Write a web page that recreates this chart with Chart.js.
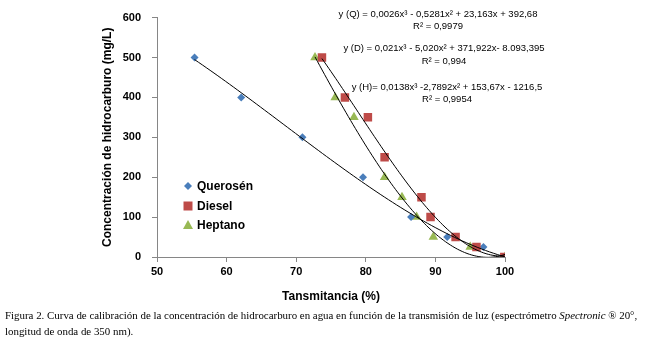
<!DOCTYPE html>
<html>
<head>
<meta charset="utf-8">
<script src="https://cdn.jsdelivr.net/npm/chart.js@4.4.1/dist/chart.umd.min.js"></script>
<style>
  body { margin: 0; background: #fff; }
  #wrap { position: relative; width: 651px; height: 351px; }
  #caption {
    position: absolute; left: 5px; top: 307px;
    font-family: "Liberation Serif", "Times New Roman", serif;
    font-size: 10.9px; line-height: 16px; color: #000; white-space: nowrap;
  }
</style>
</head>
<body>
<div id="wrap">
  <canvas id="chart" width="651" height="351"></canvas>
  <div id="caption">Figura 2. Curva de calibración de la concentración de hidrocarburo en agua en función de la transmisión de luz (espectrómetro <i>Spectronic</i> ® 20°,<br>longitud de onda de 350 nm).</div>
</div>
<script>
// transmitance (%) vs concentration (mg/L)
const queroX = [55.4, 62.1, 70.9, 79.6, 86.5, 91.7, 96.9, 100];
const queroY = [500, 400, 300, 200, 100, 50, 25, 0];
const dieselX = [73.7, 77.0, 80.3, 82.7, 88.0, 89.3, 92.9, 95.9, 99.9];
const dieselY = [500, 400, 350, 250, 150, 100, 50, 25, 0];
const heptX = [72.7, 75.6, 78.3, 82.7, 85.2, 87.3, 89.7, 95.0, 100];
const heptY = [500, 400, 350, 200, 150, 100, 50, 25, 0];

const seriesNames = ['Querosén', 'Diesel', 'Heptano'];
const equations = [
    ['y (Q) = 0,0026x³ - 0,5281x² + 23,163x + 392,68', 'R² = 0,9979'],
    ['y (D) = 0,021x³ - 5,020x² + 371,922x- 8.093,395', 'R² = 0,994'],
    ['y (H)= 0,0138x³ -2,7892x² + 153,67x - 1216,5', 'R² = 0,9954']
];

function toPoints(xs, ys) {
    return xs.map((x, i) => ({ x: x, y: ys[i] }));
}

// least squares cubic, like the excel trendline
function cubicFit(xs, ys) {
    const c = 75, n = 4;
    const A = [], b = [];
    for (let i = 0; i < n; i++) { A.push([0, 0, 0, 0]); b.push(0); }
    xs.forEach((x, k) => {
        const t = x - c;
        for (let i = 0; i < n; i++) {
            for (let j = 0; j < n; j++) A[i][j] += Math.pow(t, i + j);
            b[i] += Math.pow(t, i) * ys[k];
        }
    });
    for (let i = 0; i < n; i++) {
        for (let r = i + 1; r < n; r++) {
            const f = A[r][i] / A[i][i];
            for (let j = i; j < n; j++) A[r][j] -= f * A[i][j];
            b[r] -= f * b[i];
        }
    }
    const a = [0, 0, 0, 0];
    for (let i = n - 1; i >= 0; i--) {
        let s = b[i];
        for (let j = i + 1; j < n; j++) s -= A[i][j] * a[j];
        a[i] = s / A[i][i];
    }
    return function(x) {
        const t = x - c;
        return a[0] + a[1] * t + a[2] * t * t + a[3] * t * t * t;
    };
}

function trend(xs, ys) {
    const f = cubicFit(xs, ys);
    const lo = Math.min(...xs), hi = Math.max(...xs);
    const pts = [];
    for (let i = 0; i <= 80; i++) {
        const x = lo + (hi - lo) * i / 80;
        pts.push({ x: x, y: f(x) });
    }
    return {
        data: pts, showLine: true, pointRadius: 0, borderColor: '#000',
        borderWidth: 1, isTrend: true, order: 0
    };
}

const colors = ['#4a7ebb', '#be4b48', '#98b954'];
const styles = ['rectRot', 'rect', 'triangle'];
const radii = [4, 6, 5.5];

const legendPlugin = {
    id: 'insideLegend',
    afterDraw(chart) {
        const ctx = chart.ctx;
        ctx.save();
        // equations
        ctx.fillStyle = '#000';
        ctx.font = '9.5px "Liberation Sans", Arial, sans-serif';
        ctx.textAlign = 'center';
        ctx.textBaseline = 'middle';
        const eqPos = [[438, 14, 26], [444, 48, 61], [447, 87, 99]];
        equations.forEach((eq, i) => {
            ctx.fillText(eq[0], eqPos[i][0], eqPos[i][1]);
            ctx.fillText(eq[1], eqPos[i][0], eqPos[i][2]);
        });
        // legend
        ctx.textAlign = 'left';
        ctx.font = 'bold 12px "Liberation Sans", Arial, sans-serif';
        const rows = [186, 206, 225];
        chart.data.datasets.filter(d => !d.isTrend).forEach((d, i) => {
            const x = 188, y = rows[i];
            ctx.fillStyle = d.backgroundColor;
            ctx.beginPath();
            if (d.pointStyle === 'rectRot') {
                ctx.moveTo(x, y - 4); ctx.lineTo(x + 4, y); ctx.lineTo(x, y + 4); ctx.lineTo(x - 4, y);
            } else if (d.pointStyle === 'rect') {
                ctx.rect(x - 4.5, y - 4.5, 9, 9);
            } else {
                ctx.moveTo(x, y - 5); ctx.lineTo(x + 5, y + 4); ctx.lineTo(x - 5, y + 4);
            }
            ctx.closePath();
            ctx.fill();
            ctx.fillStyle = '#000';
            ctx.fillText(d.label, 197, y + 1);
        });
        ctx.restore();
    }
};

const scatterSets = [[queroX, queroY], [dieselX, dieselY], [heptX, heptY]].map((s, i) => ({
    label: seriesNames[i],
    data: toPoints(s[0], s[1]),
    pointStyle: styles[i],
    pointRadius: radii[i],
    pointHoverRadius: radii[i],
    backgroundColor: colors[i],
    borderColor: colors[i],
    borderWidth: 0,
    showLine: false,
    order: i === 1 ? 1 : 2
}));

const trendSets = [[queroX, queroY], [dieselX, dieselY], [heptX, heptY]].map(s => trend(s[0], s[1]));

const tickFont = { family: '"Liberation Sans", Arial, sans-serif', size: 11, weight: 'bold' };

new Chart(document.getElementById('chart'), {
    type: 'scatter',
    data: { datasets: scatterSets.concat(trendSets) },
    options: {
        responsive: false,
        animation: false,
        devicePixelRatio: 1,
        layout: { padding: { left: 95, top: 17, right: 146, bottom: 46 } },
        plugins: { legend: { display: false }, tooltip: { enabled: false } },
        scales: {
            x: {
                type: 'linear', min: 50, max: 100,
                ticks: { stepSize: 10, font: tickFont, color: '#000', padding: 3 },
                grid: { drawOnChartArea: false, tickLength: 5, color: '#868686' },
                border: { color: '#868686' },
                title: {
                    display: true, text: 'Tansmitancia (%)', color: '#000',
                    font: { family: '"Liberation Sans", Arial, sans-serif', size: 12, weight: 'bold' },
                    padding: { top: 4, bottom: 1 }
                },
                afterFit: s => { s.height = 48; }
            },
            y: {
                type: 'linear', min: 0, max: 600,
                ticks: { stepSize: 100, font: tickFont, color: '#000', padding: 11 },
                grid: { drawOnChartArea: false, tickLength: 5, color: '#868686' },
                border: { color: '#868686' },
                title: {
                    display: true, text: 'Concentración de hidrocarburo (mg/L)', color: '#000',
                    font: { family: '"Liberation Sans", Arial, sans-serif', size: 12, weight: 'bold' },
                    padding: { top: 5, bottom: 4 }
                },
                afterFit: s => { s.width = 62; }
            }
        }
    },
    plugins: [legendPlugin]
});
</script>
</body>
</html>
